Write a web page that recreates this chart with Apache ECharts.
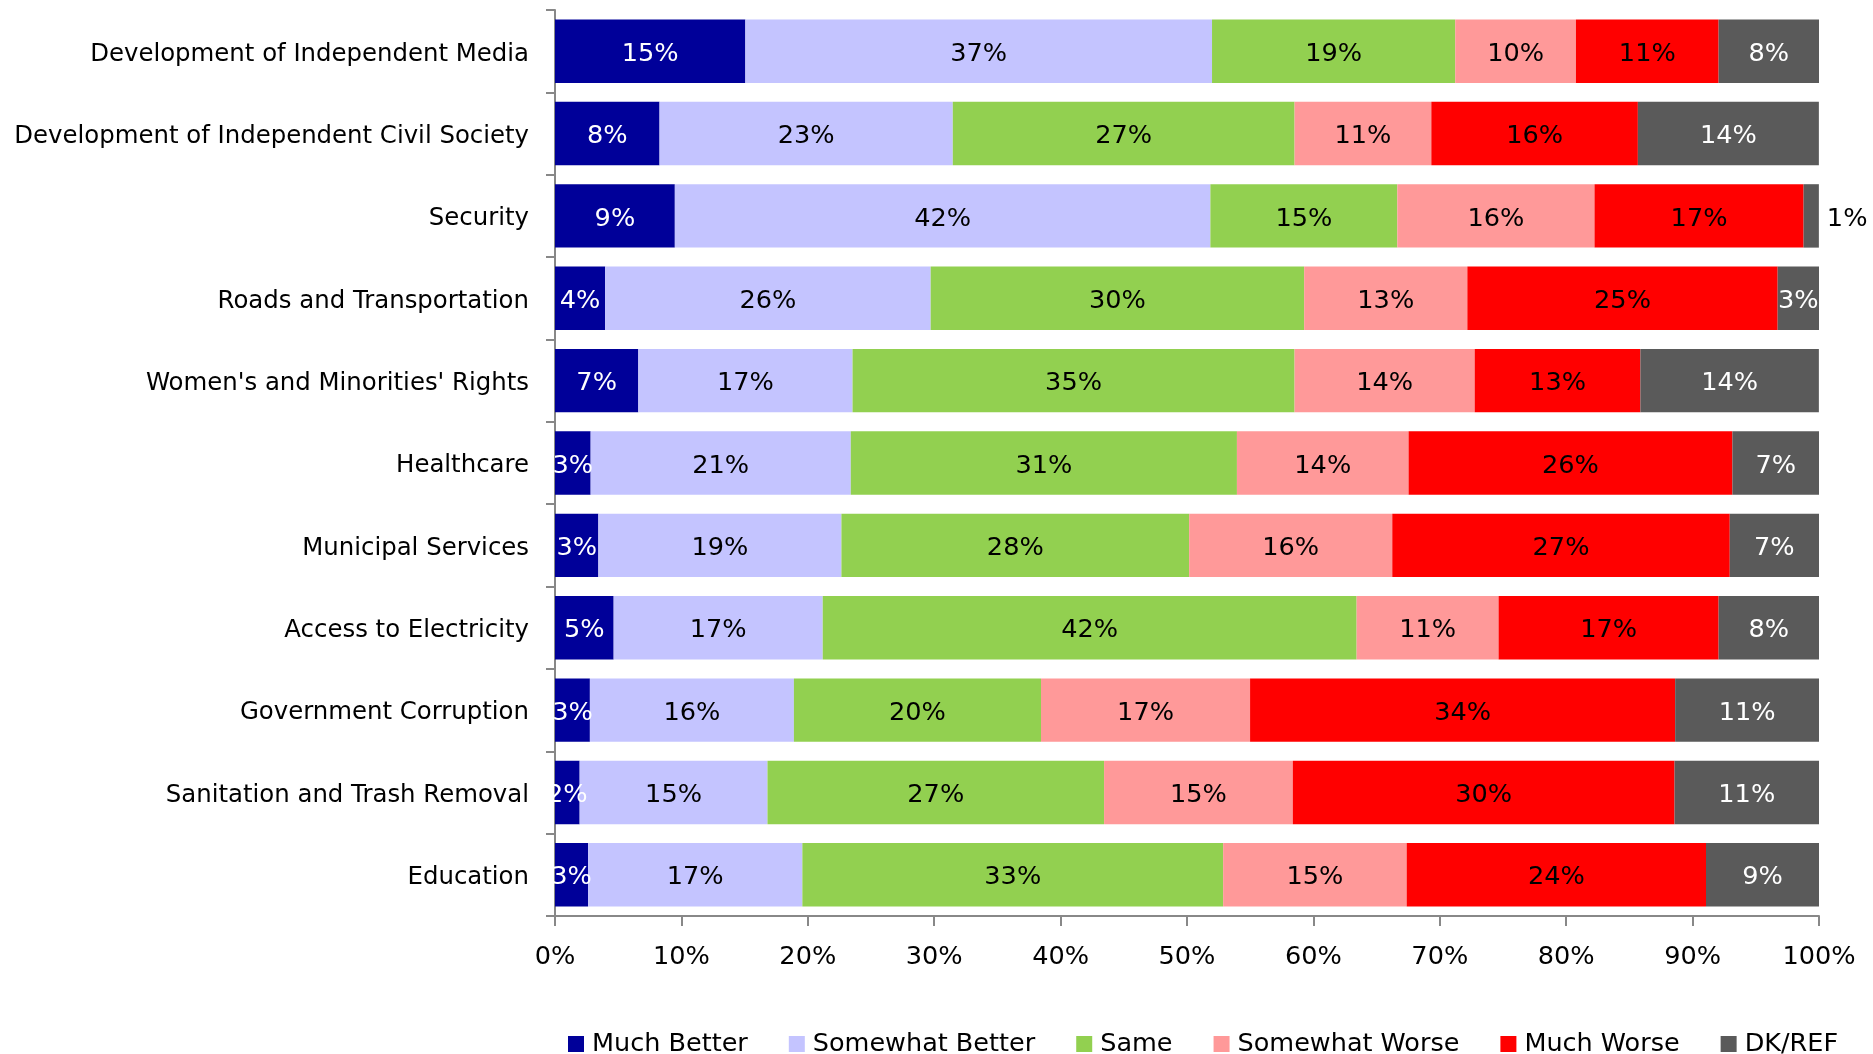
<!DOCTYPE html>
<html>
<head>
<meta charset="utf-8">
<script src="https://cdn.jsdelivr.net/npm/echarts@6/dist/echarts.min.js"></script>
<style>
  html, body { margin: 0; padding: 0; background: #fff; }
  #chart { width: 1873px; height: 1054px; }
</style>
</head>
<body>
<div id="chart"></div>
<script>
const categories = [
  "Development of Independent Media",
  "Development of Independent Civil Society",
  "Security",
  "Roads and Transportation",
  "Women's and Minorities' Rights",
  "Healthcare",
  "Municipal Services",
  "Access to Electricity",
  "Government Corruption",
  "Sanitation and Trash Removal",
  "Education",
];

const muchBetter     = [15.06, 8.27, 9.48, 3.97, 6.59, 2.82, 3.43, 4.64, 2.76, 1.95, 2.62];
const somewhatBetter = [36.92, 23.2, 42.37, 25.75, 16.95, 20.58, 19.23, 16.54, 16.14, 14.86, 16.95];
const same           = [19.24, 27.04, 14.79, 29.55, 34.97, 30.55, 27.51, 42.24, 19.55, 26.63, 33.29];
const somewhatWorse  = [9.55, 10.82, 15.6, 12.91, 14.25, 13.58, 16.07, 11.23, 16.54, 14.93, 14.52];
const muchWorse      = [11.29, 16.34, 16.54, 24.55, 13.11, 25.62, 26.7, 17.41, 33.63, 30.2, 23.68];
const dkRef          = [7.94, 14.32, 1.21, 3.36, 14.12, 6.93, 7.06, 7.94, 11.43, 11.43, 8.94];

const FONT = "DejaVu Sans";

const chart = echarts.init(document.getElementById("chart"));

function seg(name, data, color, labelColor) {
  return {
    name,
    type: "bar",
    stack: "total",
    barCategoryGap: "23%",
    data: data.map((v) => {
      // the tiny DK/REF sliver for Security has its label outside the bar
      if (name === "DK/REF" && v < 2) {
        return { value: v, label: { position: "right", color: "#000", distance: 8 } };
      }
      return v;
    }),
    itemStyle: { color },
    label: {
      show: true,
      position: "inside",
      offset: [0, 3],
      color: labelColor,
      fontFamily: FONT,
      fontSize: 25.6,
      formatter: (p) => Math.round(p.value) + "%",
    },
  };
}

chart.setOption({
  animation: false,
  backgroundColor: "#fff",
  textStyle: { fontFamily: FONT },
  grid: { left: 555, right: 54, top: 10, bottom: 138 },
  legend: {
    top: 1026,
    left: 563,
    itemWidth: 16,
    itemHeight: 16,
    itemGap: 41,
    icon: "rect",
    textStyle: { fontFamily: FONT, fontSize: 25.5, color: "#000", padding: [0, 0, 0, 3] },
    data: ["Much Better", "Somewhat Better", "Same", "Somewhat Worse", "Much Worse", "DK/REF"],
  },
  xAxis: {
    type: "value",
    min: 0,
    max: 100,
    interval: 10,
    axisLine: { show: true, lineStyle: { color: "#888", width: 2 } },
    axisTick: { show: true, length: 10, lineStyle: { color: "#888", width: 2 } },
    splitLine: { show: false },
    axisLabel: {
      formatter: "{value}%",
      color: "#000",
      fontFamily: FONT,
      fontSize: 25.6,
      margin: 28,
    },
  },
  yAxis: {
    type: "category",
    inverse: true,
    data: categories,
    axisLine: { show: true, lineStyle: { color: "#888", width: 2 } },
    axisTick: { show: true, length: 9, lineStyle: { color: "#888", width: 2 } },
    axisLabel: {
      margin: 26,
      formatter: (v) => "{c|" + v + "}",
      rich: {
        c: {
          color: "#000",
          fontFamily: FONT,
          fontSize: 24.4,
          padding: [6, 0, 0, 0],
        },
      },
    },
  },
  series: [
    seg("Much Better", muchBetter, "#000099", "#fff"),
    seg("Somewhat Better", somewhatBetter, "#C4C4FF", "#000"),
    seg("Same", same, "#92D050", "#000"),
    seg("Somewhat Worse", somewhatWorse, "#FF9999", "#000"),
    seg("Much Worse", muchWorse, "#FF0000", "#000"),
    seg("DK/REF", dkRef, "#5A5A5A", "#fff"),
  ],
});
</script>
</body>
</html>
